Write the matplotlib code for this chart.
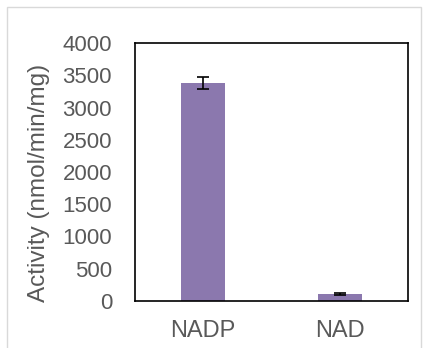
import matplotlib.pyplot as plt
from matplotlib.patches import Rectangle

# Data
categories = ['NADP', 'NAD']
activity = [3380, 108]
errors = [90, 12]
yticks = [0, 500, 1000, 1500, 2000, 2500, 3000, 3500, 4000]

plt.rcParams['font.family'] = ['Liberation Sans', 'DejaVu Sans']
text_color = '#595959'

fig = plt.figure(figsize=(4.25, 3.48), dpi=100)
ax = fig.add_axes([135 / 425, 1 - 301 / 348, 273 / 425, 258 / 348])

x = range(len(categories))
ax.bar(x, activity, width=0.32, color='#8B78AE', zorder=2)
ax.errorbar(x, activity, yerr=errors, fmt='none', ecolor='black',
            elinewidth=1.2, capsize=4, capthick=1.2, zorder=3)

ax.set_xlim(-0.5, 1.5)
ax.set_ylim(0, 4000)
ax.set_yticks(yticks)
ax.set_xticks(list(x))
ax.set_xticklabels(categories)
ax.tick_params(axis='both', length=0, colors=text_color)
ax.tick_params(axis='y', pad=16.5, labelsize=16)
ax.tick_params(axis='x', pad=14, labelsize=17)
for s in ax.spines.values():
    s.set_color('black')
    s.set_linewidth(1.2)

ax.set_ylabel('Activity (nmol/min/mg)', fontsize=17.5, color=text_color)
ax.yaxis.set_label_coords(-0.311, 0.459)

# light frame around the figure
fig.patches.append(Rectangle((7 / 425, -0.1), 414 / 425, 1 - 7 / 348 + 0.1,
                             transform=fig.transFigure, fill=False,
                             edgecolor='#d9d9d9', linewidth=1))

fig.savefig('out.png', dpi=100)
